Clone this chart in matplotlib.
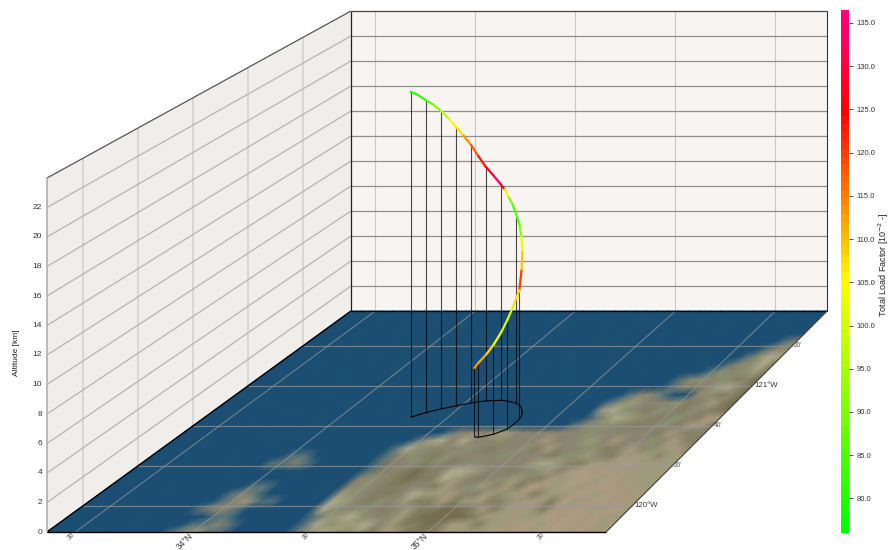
import numpy as np
import matplotlib
matplotlib.use("Agg")
import matplotlib.pyplot as plt
from matplotlib.cm import ScalarMappable
from matplotlib.collections import LineCollection
from matplotlib.colors import LinearSegmentedColormap, Normalize, to_rgb

plt.rcParams['font.family'] = ['Liberation Sans', 'DejaVu Sans']

# flight path
lat = [34.328, 34.349, 34.371, 34.396, 34.421, 34.448, 34.475, 34.501, 34.528, 34.556,
       34.585, 34.618, 34.651, 34.672, 34.695, 34.718, 34.739, 34.765, 34.790, 34.819,
       34.832, 34.840, 34.840, 34.836, 34.820, 34.800, 34.775, 34.747, 34.726]
lon = [120.739, 120.758, 120.777, 120.793, 120.808, 120.821, 120.833, 120.846, 120.858, 120.867,
       120.875, 120.878, 120.880, 120.877, 120.871, 120.864, 120.856, 120.840, 120.815, 120.777,
       120.750, 120.722, 120.680, 120.641, 120.620, 120.597, 120.584, 120.572, 120.577]
alt = [23.97, 23.60, 23.11, 22.65, 22.10, 21.45, 20.70, 19.98, 19.20, 18.30,
       17.46, 16.80, 16.13, 15.75, 15.20, 14.70, 14.08, 13.40, 12.70, 11.87,
       10.70, 9.50, 8.70, 7.96, 7.20, 6.49, 5.90, 5.39, 4.99]
load = [80, 82, 86, 91, 97, 103, 108, 113, 118, 123,
        127, 133, 128, 106, 92, 85, 86, 92, 103, 110,
        120, 108, 100, 100, 104, 108, 111, 113, 88]
drop_idx = [0, 2, 4, 6, 8, 10, 12, 16, 21, 23, 25, 27, 28]

# axis ranges and ticks
lat_range = (33.379, 35.758)
lon_range = (119.783, 121.624)
alt_max = 24.0
alt_ticks = [0, 2, 4, 6, 8, 10, 12, 14, 16, 18, 20, 22]
lat_ticks = [33.5, 34.0, 34.5, 35.0, 35.5]
lat_labels = ["30'", "34°N", "30'", "35°N", "30'"]
lon_ticks = [120.0, 120.333, 120.667, 121.0, 121.333]
lon_labels = ["120°W", "20'", "40'", "121°W", "20'"]
cbar_ticks = [80, 85, 90, 95, 100, 105, 110, 115, 120, 125, 130, 135]

# ground image, back row first, one letter per cell
ground_colors = {'a': '#1b4e72', 'b': '#1d5270', 'c': '#56727a', 'd': '#8a8570', 'e': '#9e9a7c',
                 'f': '#a8987e', 'g': '#827d62', 'h': '#aeaa8c', 'i': '#ae9c84', 'j': '#8a9070',
                 'k': '#766d50'}
ground_rows = [
    "aabaaaabaa aaabaaabaa aaaaabaaaa abaaaaabaa aaaaaa",
    "aaaabaaaab aaaaaaabaa baaaaaaabb aaaabaaaaa aabaaa",
    "abaaaaabaa aabbaaaaaa aabaaabaaa aaaaaaabaa aaaaab",
    "aaaabaaaaa aaaaabaaab aaaaaaaaba aabaaaaaaa baaaaa",
    "aabaaaaaba aaaaaaabaa aabaaaabaa aaaaabaaaa aaaacd",
    "aaaaabaaaa baaabaaaaa aaaaabaaab aaaabaaaaa aaacdj",
    "abaaaaaaba aaaaabaaaa baaaaabaaa aabaaaaaba aacjhe",
    "aaaabaaaaa abaaaaaaba aaaabaaaaa baaaaaaaab acdjhg",
    "aaaaaaabaa aabaaaaaaa bbaaaaabaa aaaabaaaaa cjdjeg",
    "aabaaaaaba aaaaabaaaa aaaabaaaba abaaaaaacd jdjgdk",
    "aaaaabaaaa aabaaaaaab aaaaabaaab aaaaaaabcd gdehdk",
    "abaaaaaaba aaaabaaaaa aaaabaaaaa abaaacddca bdjgdk",
    "aaaabaaaaa abaaaaabaa aabaaaaaba aaaacjeddd jgdfgk",
    "aaaaaaabaa aaaaabaaaa baaaaaabaa aaaaehjdgj dgjdgk",
    "aabaaaaaaa baaaaaaaba aaaabaaaaa baaacjhejd gjdgff",
    "aaaaabaaaa aaabaaaaab aaaaaaabaa aaacdjjdgg djgffg",
    "aaaaaaabaa baaaaaaaaa aaacdddeed dddddjdddd dgfdgd",
    "aaabaaaaab aaaaaaaaaa acehdhddjd ddfddjedfd djdfdg",
    "aaaaaaaaaa aabaaaaaaa chjdddjdgd djgfddjjgd fdjefd",
    "aaaaaaabaa aaccaaaaab cdjdgjdddd jdddgjjedg feedef",
    "aaaabaaaaa accdcaaaaa cgdjgjgdjd dddehedgef eiefee",
    "aaaaaaaaab aaaabaaaaa cgdgkgdhhe ddgdjedfif iefeef",
    "abaaaaaaaa aaaaaaaaaa djdgkgghed gdjedgfeii eifeee",
    "aaaaabaaaa aaccaaaaba djdggddgfd jedfgifeie fiffee",
    "aaaaaaaaaa acdcaaaaaa ejdggdheef dgfjefgeef ieifff",
    "aaabaaaaaa acdeccaaaa hedgjdeggf gefgdeffgi efiffe",
    "aaaaaaaaaa cddcaaaaaa hjdjdgdegg kkgfgefegf fiefie",
    "aaaaaabaaa aaccaaaaaa cjehjddegk kkkgfefeei fifief",
    "aaaaaaaaaa accdcaaaaa chjeehdegg kgfegeefie iifiei",
    "aaaabaaaaa cdeccaaaaa cjhejegffg ggefeeifie iiefef",
]


def project(la, lo, al):
    # floor is a trapezoid on the page, walls stand on its edges
    s = (np.asarray(lo, float) - lon_range[0]) / (lon_range[1] - lon_range[0])
    u = (np.asarray(la, float) - lat_range[0]) / (lat_range[1] - lat_range[0])
    a = np.asarray(al, float) / alt_max
    x = 47 + 304 * s + u * (559 - 83 * s)
    y = 532 - 221 * s - a * (354 - 54 * s)
    return x, y


def line3d(ax, la, lo, al, **kw):
    x, y = project(la, lo, al)
    ax.plot(x, y, solid_capstyle='butt', **kw)


def wall(ax, la, lo, al, color):
    x, y = project(la, lo, al)
    ax.fill(x, y, color=color, lw=0, zorder=1)


fig = plt.figure(figsize=(8.91, 5.5), dpi=100)
ax = fig.add_axes([0, 0, 1, 1])
ax.set_xlim(0, 891)
ax.set_ylim(550, 0)
ax.axis('off')

la0, la1 = lat_range
lo0, lo1 = lon_range

# walls
wall(ax, [la0, la1, la1, la0], [lo1, lo1, lo1, lo1], [0, 0, alt_max, alt_max], '#f7f4f1')
wall(ax, [la0, la0, la0, la0], [lo0, lo1, lo1, lo0], [0, 0, alt_max, alt_max], '#efeeea')

for t in lat_ticks:
    line3d(ax, [t, t], [lo1, lo1], [0, alt_max], color='#c8c8c8', lw=0.8, zorder=2)
for t in lon_ticks:
    line3d(ax, [la0, la0], [t, t], [0, alt_max], color='#d0d0ce', lw=1.1, zorder=2)
for t in alt_ticks[1:]:
    line3d(ax, [la0, la1], [lo1, lo1], [t, t], color='#909090', lw=0.9, zorder=2)
    line3d(ax, [la0, la0], [lo0, lo1], [t, t], color='#b4b4b2', lw=0.9, zorder=2)

# ground image
rgb = np.array([[to_rgb(ground_colors[c]) for c in row.replace(" ", "")] for row in ground_rows])
n_rows, n_cols = rgb.shape[:2]
LA, LO = np.meshgrid(np.linspace(la0, la1, n_cols), np.linspace(lo1, lo0, n_rows))
X, Y = project(LA, LO, np.zeros_like(LA))
ax.pcolormesh(X, Y, rgb, shading='gouraud', zorder=3)
ax.set_xlim(0, 891)
ax.set_ylim(550, 0)

# floor grid
for t in lat_ticks:
    line3d(ax, [t, t], [lo0, lo1], [0, 0], color='#9a9a9a', lw=0.8, alpha=0.65, zorder=4)
for t in lon_ticks:
    line3d(ax, [la0, la1], [t, t], [0, 0], color='#9a9a9a', lw=0.9, alpha=0.65, zorder=4)

# box edges
line3d(ax, [la0, la1], [lo0, lo0], [0, 0], color='black', lw=1.0, zorder=5)
line3d(ax, [la0, la0], [lo0, lo1], [0, 0], color='black', lw=1.0, zorder=5)
line3d(ax, [la0, la1], [lo1, lo1], [0, 0], color='black', lw=0.9, zorder=5)
line3d(ax, [la1, la1], [lo0, lo1], [0, 0], color='#4a4638', lw=0.8, zorder=5)
line3d(ax, [la0, la0], [lo1, lo1], [0, alt_max], color='#222222', lw=0.9, zorder=5)
line3d(ax, [la1, la1], [lo1, lo1], [0, alt_max], color='#333333', lw=0.8, zorder=5)
line3d(ax, [la0, la1], [lo1, lo1], [alt_max, alt_max], color='#444444', lw=0.9, zorder=5)
line3d(ax, [la0, la0], [lo0, lo1], [alt_max, alt_max], color='#555555', lw=0.9, zorder=5)
line3d(ax, [la0, la0], [lo0, lo0], [0, alt_max], color='#b0b0b0', lw=1.2, zorder=5)

# ground track and drop lines
line3d(ax, lat, lon, np.zeros(len(lat)), color='black', lw=0.8, zorder=6)
for i in drop_idx:
    line3d(ax, [lat[i], lat[i]], [lon[i], lon[i]], [0, alt[i]], color='black', lw=0.8, alpha=0.7, zorder=6)

# flight path coloured by load factor
cmap = LinearSegmentedColormap.from_list(
    'load',
    [(0.0, '#00ff00'), (29.0 / 60.5, '#ffff00'), (49.0 / 60.5, '#ff0000'), (1.0, '#ff0080')],
    N=64)
norm = Normalize(76.0, 136.5)
px, py = project(lat, lon, alt)
pts = np.column_stack([px, py])
segs = np.stack([pts[:-1], pts[1:]], axis=1)
lc = LineCollection(segs, cmap=cmap, norm=norm, linewidths=1.6, capstyle='round', zorder=7)
lc.set_array(np.array(load[:-1], float))
ax.add_collection(lc)

# tick labels
for t in alt_ticks:
    x, y = project(la0, lo0, t)
    ax.text(x - 5, y, str(t), ha='right', va='center', fontsize=6, color='#333333')
for t, lab in zip(lat_ticks, lat_labels):
    x, y = project(t, lo0, 0)
    if '°' in lab:
        ax.annotate(lab, (x, y), xytext=(-5.8, -6.5), textcoords='offset points', ha='center', va='center',
                    rotation=45, fontsize=6.2, color='#333333')
    else:
        ax.annotate(lab, (x, y), xytext=(-2.9, -2.7), textcoords='offset points', ha='center', va='center',
                    rotation=45, fontsize=4.8, color='#555555')
for t, lab in zip(lon_ticks, lon_labels):
    x, y = project(la1, t, 0)
    big = '°' in lab
    ax.annotate(lab, (x, y), xytext=(1.5, 0), textcoords='offset points', ha='left', va='center',
                fontsize=5.6 if big else 4.8, color='#333333' if big else '#555555')
ax.text(17, 353, 'Altitude [km]', rotation=90, ha='center', va='center', fontsize=6, color='#222222')
ax.text(884, 265, 'Total Load Factor [10$^{-2}$ -]', rotation=90, ha='center', va='center',
        fontsize=6.5, color='#222222')

# colour bar
cax = fig.add_axes([841 / 891, 1 - 533 / 550, 8.3 / 891, 523 / 550])
cb = fig.colorbar(ScalarMappable(norm=norm, cmap=cmap), cax=cax)
cb.set_ticks(cbar_ticks)
cb.set_ticklabels(['%.1f' % t for t in cbar_ticks])
cb.outline.set_visible(False)
cb.ax.tick_params(length=3, width=0.6, pad=2, labelsize=5.5, labelcolor='#333333', color='#333333')

fig.savefig('out.png', dpi=100)
